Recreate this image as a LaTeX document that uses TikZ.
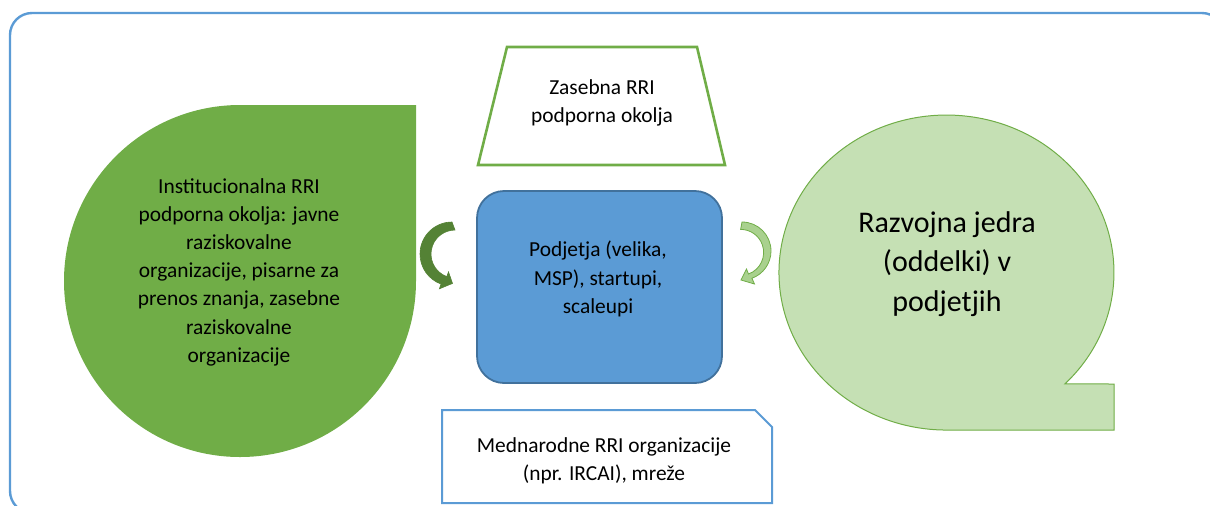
\documentclass[tikz,border=0pt]{standalone}
\usepackage{fontspec}
\setmainfont{Carlito}
\definecolor{frameblue}{HTML}{5B9BD5}
\definecolor{boxblue}{HTML}{5B9BD5}
\definecolor{boxedge}{HTML}{41719C}
\definecolor{gmid}{HTML}{70AD47}
\definecolor{glight}{HTML}{C5E0B4}
\definecolor{gdark}{HTML}{548235}
\definecolor{garrow}{HTML}{A9D18E}
\begin{document}
\begin{tikzpicture}[x=0.5pt,y=-0.5pt,
  txt/.style={font=\fontsize{10.7pt}{14.1pt}\selectfont, align=center, text=black, inner sep=0pt},
  bigtxt/.style={font=\fontsize{15pt}{19.8pt}\selectfont, align=center, text=black, inner sep=0pt},
  outerframe/.style={draw=frameblue, line width=1.2pt, rounded corners=11pt},
  dropshape/.style={fill=gmid},
  bubbleshape/.style={fill=glight, draw=gmid, line width=0.5pt},
  centerbox/.style={fill=boxblue, draw=boxedge, line width=0.9pt, rounded corners=13.5pt},
  trapshape/.style={draw=gmid, line width=1.3pt, fill=white},
  snipshape/.style={draw=frameblue, line width=1pt, fill=white},
  darkarrow/.style={fill=gdark, draw=gdark, line width=0.3pt},
  lightarrow/.style={fill=garrow, draw=gmid, line width=0.4pt}]
\useasboundingbox (0,0) rectangle (1210,505);
\begin{scope}
  \clip (0,0) rectangle (1210,505);
  \draw[outerframe] (10,13) rectangle (1224,513);
\end{scope}
% left teardrop
\path[dropshape] (416,105) -- (240,105) arc[start angle=270, end angle=0, radius=176] -- cycle;
\node[txt] (inst) at (239,272) {Institucionalna RRI\\podporna okolja: javne\\raziskovalne\\organizacije, pisarne za\\prenos znanja, zasebne\\raziskovalne\\organizacije};
% right bubble
\path[bubbleshape] (1064.9,383.9) arc[start angle=45, end angle=-270, x radius=167.5, y radius=157.5] -- (1114,430) -- (1114,384) -- cycle;
\node[bigtxt] (razv) at (947,264) {Razvojna jedra\\(oddelki) v\\podjetjih};
% trapezoid
\path[trapshape] (507,47) -- (697,47) -- (725,165) -- (478,165) -- cycle;
\node[txt] (zas) at (602,103) {Zasebna RRI\\podporna okolja};
% center box
\path[centerbox] (477,191) rectangle (722,383);
\node[txt] (podj) at (598,279) {Podjetja (velika,\\MSP), startupi,\\scaleupi};
% bottom snip box
\path[snipshape] (442,410) -- (755,410) -- (772,427) -- (772,503) -- (442,503) -- cycle;
\node[txt] (medn) at (604,461) {Mednarodne RRI organizacije\\(npr. IRCAI), mre\v{z}e};
% left curved arrow
\path[darkarrow] (452,222) arc[start angle=270, end angle=110, radius=32]
  -- (439.4,288.8) -- (452.5,283.4) -- (448.5,271.9) -- (446.8,276.6)
  arc[start angle=110, end angle=270, radius=24] -- cycle;
% right curved arrow
\path[lightarrow] (742,222) arc[start angle=270, end angle=430, radius=29]
  -- (754.5,284) -- (741,280) -- (746.5,269) -- (748.5,274)
  arc[start angle=70, end angle=-90, radius=23] -- cycle;
\end{tikzpicture}
\end{document}
